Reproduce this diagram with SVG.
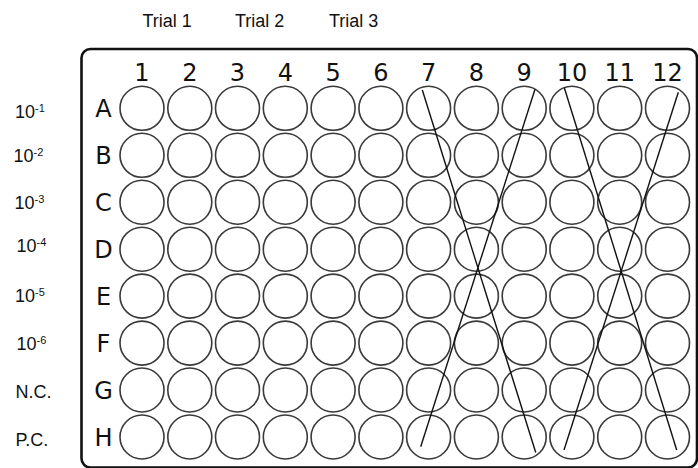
<svg xmlns="http://www.w3.org/2000/svg" width="698" height="468" viewBox="0 0 698 468">
<style>
.well{fill:none;stroke:#3a3a3a;stroke-width:1.6}
.num{font-family:"DejaVu Sans",sans-serif;font-size:24px;fill:#111;text-anchor:middle}
.lab{font-family:"Liberation Sans",Arial,sans-serif;font-size:18px;fill:#111}
.sup{font-size:11px}
.x{stroke:#111;stroke-width:1.4;fill:none}
</style>
<rect width="698" height="468" fill="#fff"/>
<g id="trials">
<text class="lab" x="142.5" y="27">Trial 1</text>
<text class="lab" x="235" y="27">Trial 2</text>
<text class="lab" x="329" y="27">Trial 3</text>
</g>
<g id="dilutions">
<text class="lab" x="15" y="118">10<tspan class="sup" dy="-6.5">-1</tspan></text>
<text class="lab" x="13.5" y="162">10<tspan class="sup" dy="-6.5">-2</tspan></text>
<text class="lab" x="14.5" y="209">10<tspan class="sup" dy="-6.5">-3</tspan></text>
<text class="lab" x="16.5" y="252">10<tspan class="sup" dy="-6.5">-4</tspan></text>
<text class="lab" x="15" y="302">10<tspan class="sup" dy="-6.5">-5</tspan></text>
<text class="lab" x="16.5" y="350">10<tspan class="sup" dy="-6.5">-6</tspan></text>
<text class="lab" x="15.5" y="398">N.C.</text>
<text class="lab" x="15.5" y="446">P.C.</text>
</g>
<g id="plate">
<rect x="81.5" y="49" width="615.5" height="418.5" rx="9" fill="none" stroke="#111" stroke-width="2.6"/>
<g id="col-labels">
<text class="num" x="142" y="80.5">1</text>
<text class="num" x="189.8" y="80.5">2</text>
<text class="num" x="237.5" y="80.5">3</text>
<text class="num" x="285.3" y="80.5">4</text>
<text class="num" x="333.1" y="80.5">5</text>
<text class="num" x="380.9" y="80.5">6</text>
<text class="num" x="428.6" y="80.5">7</text>
<text class="num" x="476.4" y="80.5">8</text>
<text class="num" x="524.2" y="80.5">9</text>
<text class="num" x="571.9" y="80.5">10</text>
<text class="num" x="619.7" y="80.5">11</text>
<text class="num" x="667.5" y="80.5">12</text>
</g>
<g id="row-labels">
<text class="num" x="103.5" y="117">A</text>
<text class="num" x="103.5" y="164">B</text>
<text class="num" x="103.5" y="211">C</text>
<text class="num" x="103.5" y="258">D</text>
<text class="num" x="103.5" y="305">E</text>
<text class="num" x="103.5" y="352">F</text>
<text class="num" x="103.5" y="399">G</text>
<text class="num" x="103.5" y="446">H</text>
</g>
<defs>
<g id="row">
<circle class="well" cx="142" cy="0" r="22"/>
<circle class="well" cx="189.8" cy="0" r="22"/>
<circle class="well" cx="237.5" cy="0" r="22"/>
<circle class="well" cx="285.3" cy="0" r="22"/>
<circle class="well" cx="333.1" cy="0" r="22"/>
<circle class="well" cx="380.9" cy="0" r="22"/>
<circle class="well" cx="428.6" cy="0" r="22"/>
<circle class="well" cx="476.4" cy="0" r="22"/>
<circle class="well" cx="524.2" cy="0" r="22"/>
<circle class="well" cx="571.9" cy="0" r="22"/>
<circle class="well" cx="619.7" cy="0" r="22"/>
<circle class="well" cx="667.5" cy="0" r="22"/>
</g>
</defs>
<g id="wells">
<use href="#row" y="108.3"/>
<use href="#row" y="155.3"/>
<use href="#row" y="202.2"/>
<use href="#row" y="249.2"/>
<use href="#row" y="296.1"/>
<use href="#row" y="343.1"/>
<use href="#row" y="390"/>
<use href="#row" y="437"/>
</g>
</g>
<g id="connectors">
<line class="x" x1="422.3" y1="90" x2="535.7" y2="452.5"/>
<line class="x" x1="535" y1="89.3" x2="420.7" y2="446.7"/>
<line class="x" x1="564.3" y1="87.7" x2="676.7" y2="450"/>
<line class="x" x1="678.3" y1="92.3" x2="564" y2="450"/>
</g>
</svg>
